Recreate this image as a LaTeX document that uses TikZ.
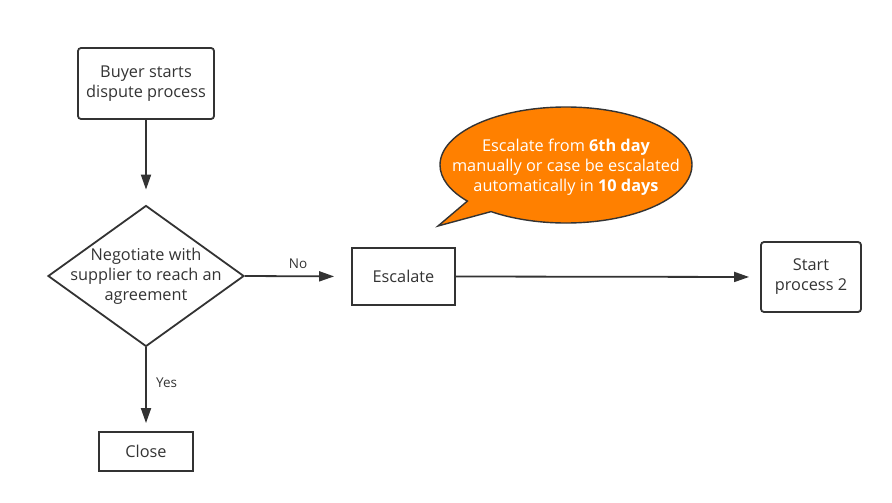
\documentclass[tikz,border=0pt]{standalone}
\usepackage{fontspec}
\setmainfont{Open Sans}
\usetikzlibrary{arrows.meta, shapes.geometric, shapes.callouts}
\definecolor{ink}{HTML}{333333}
\definecolor{calloutfill}{HTML}{FF8000}

\begin{document}
\begin{tikzpicture}[x=1pt, y=-1pt,
    every node/.style={font=\fontsize{16.3}{20}\selectfont, text=ink},
    box/.style={draw=ink, line width=1.8pt, align=center, inner sep=0pt},
    roundbox/.style={box, rounded corners=3pt},
    decision/.style={draw=ink, line width=1.8pt, diamond, inner sep=0pt,
      minimum width=196pt, minimum height=141pt},
    flow/.style={draw=ink, line width=1.8pt, -{Triangle[length=15pt, width=10pt]}},
    small/.style={font=\fontsize{13.5}{16}\selectfont}]
  \useasboundingbox (0,0) rectangle (892,503);

  \node[roundbox, minimum width=136pt, minimum height=71pt] (buyer) at (146,83.5)
    {Buyer starts\\dispute process};
  \node[decision] (negotiate) at (146,276) {};
  \node[align=center] at (negotiate) {Negotiate with\\supplier to reach an\\agreement};
  \node[box, minimum width=103pt, minimum height=57pt] (escalate) at (403.5,276.5) {Escalate};
  \node[roundbox, minimum width=100pt, minimum height=70pt] (start) at (811,277)
    {Start\\process 2};
  \node[box, minimum width=94pt, minimum height=39pt] (close) at (146,451.5) {Close};

  % speech bubble
  \node[ellipse callout, draw=ink, line width=1.4pt, fill=calloutfill,
    minimum width=252pt, minimum height=116pt, inner sep=0pt,
    callout absolute pointer={(438,226)}] (bubble) at (566,165) {};
  \node[align=center, text=white] at (566,167)
    {Escalate from \textbf{6th day}\\manually or case be escalated\\automatically in \textbf{10 days}};

  \draw[flow, shorten >=15pt] (buyer.south) -- (negotiate.north);
  \draw[flow, shorten >=17pt] (negotiate.east) -- node[small, above=3pt] {No} (escalate.west);
  \draw[flow, shorten >=11pt] (escalate.east) -- (start.west);
  \draw[flow, shorten >=8pt] (negotiate.south) -- node[small, right=6pt, pos=0.42] {Yes} (close.north);
\end{tikzpicture}
\end{document}
